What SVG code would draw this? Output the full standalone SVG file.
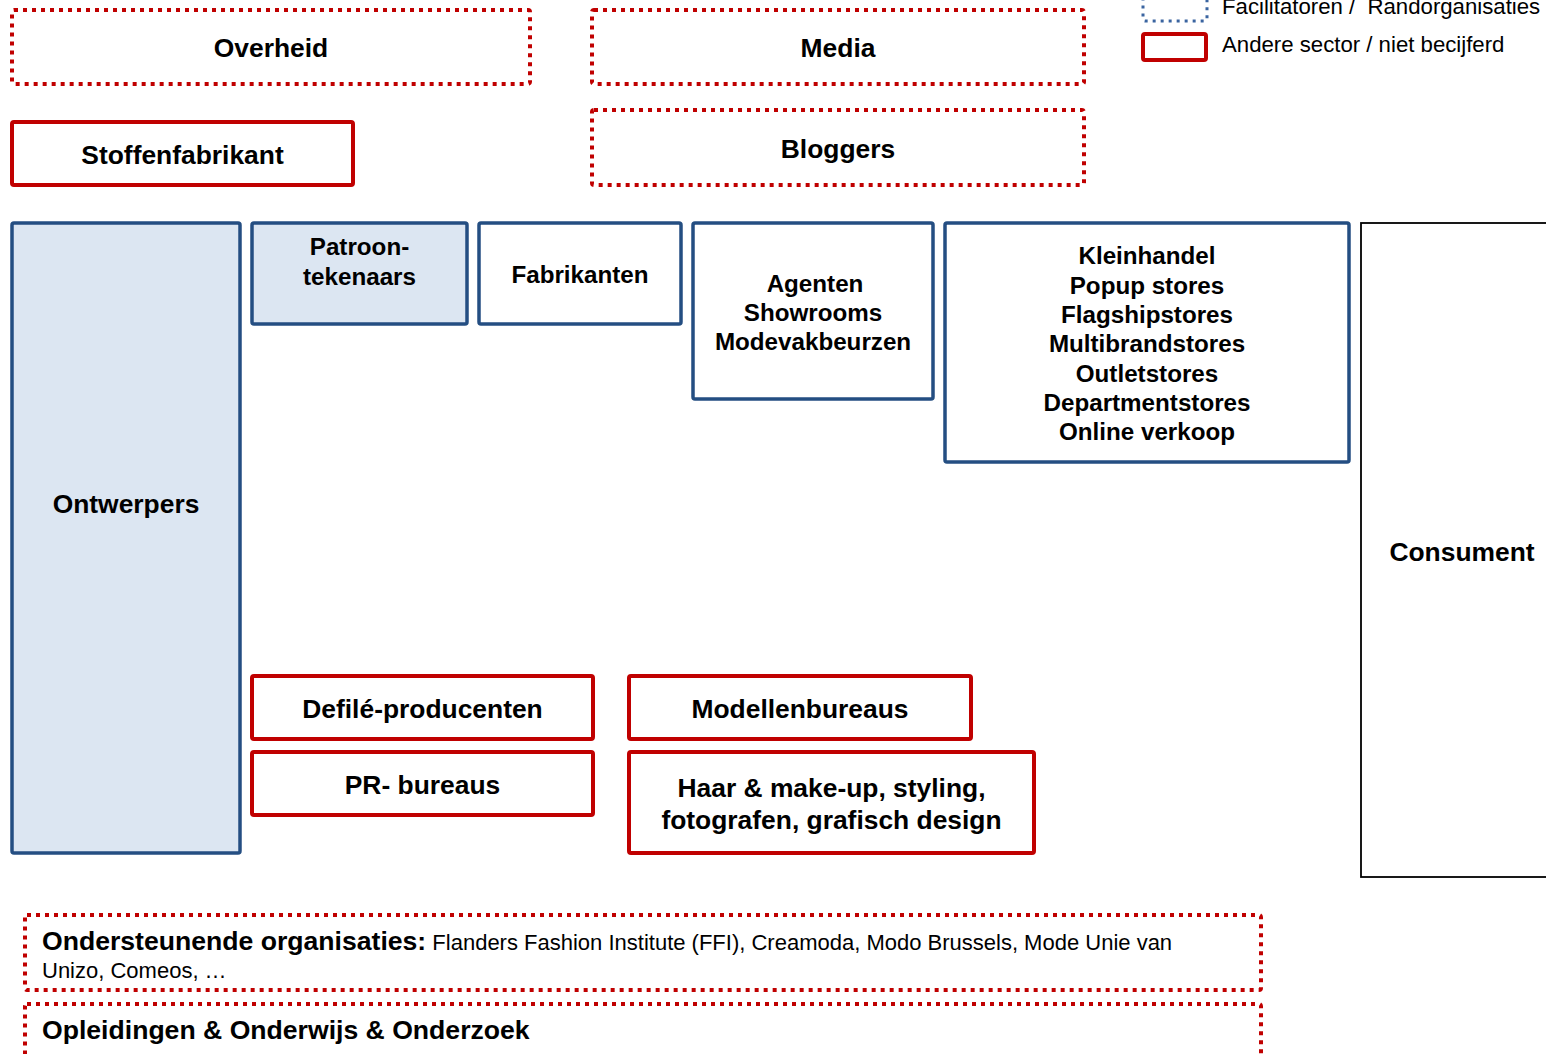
<svg xmlns="http://www.w3.org/2000/svg" width="1546" height="1054" viewBox="0 0 1546 1054">
  <style>
    .lbl { font-family: "Liberation Sans", Arial, sans-serif; font-weight: bold; fill: #000; text-anchor: middle; }
    .s24 { font-size: 24.2px; }
    .s26 { font-size: 26.4px; }
    .reg { font-family: "Liberation Sans", Arial, sans-serif; fill: #000; }
    .core { fill: #fff; stroke: #244e82; stroke-width: 3.5; }
    .core-fill { fill: #dce6f2; stroke: #244e82; stroke-width: 3.5; }
    .other { fill: #fff; stroke: #c00000; stroke-width: 4; }
    .fringe { fill: #fff; stroke: #c00000; stroke-width: 4; stroke-dasharray: 4 5; }
    .consumer { fill: #fff; stroke: #000; stroke-width: 1.8; }
  </style>

  <!-- legend -->
  <g id="legend">
    <rect x="1143" y="-12" width="64" height="33" rx="2" fill="#fff" stroke="#3a64a0" stroke-width="3" stroke-dasharray="3 5"/>
    <text class="reg" x="1222" y="14" font-size="22.2" xml:space="preserve" style="white-space:pre">Facilitatoren /  Randorganisaties</text>
    <rect class="other" x="1143" y="34" width="63" height="26" rx="2"/>
    <text class="reg" x="1222" y="52" font-size="22.2">Andere sector / niet becijferd</text>
  </g>

  <!-- surrounding parties -->
  <g id="overheid">
    <rect class="fringe" x="12" y="10" width="518" height="74" rx="2"/>
    <text class="lbl s26" x="271" y="57">Overheid</text>
  </g>
  <g id="media">
    <rect class="fringe" x="592" y="10" width="492" height="74" rx="2"/>
    <text class="lbl s26" x="838" y="57">Media</text>
  </g>
  <g id="bloggers">
    <rect class="fringe" x="592" y="110" width="492" height="75" rx="2"/>
    <text class="lbl s26" x="838" y="158">Bloggers</text>
  </g>
  <g id="stoffenfabrikant">
    <rect class="other" x="12" y="122" width="341" height="63" rx="2"/>
    <text class="lbl s26" x="182.5" y="164">Stoffenfabrikant</text>
  </g>

  <!-- core chain -->
  <g id="ontwerpers">
    <rect class="core-fill" x="12" y="223" width="228" height="630" rx="2"/>
    <text class="lbl s26" x="126" y="513">Ontwerpers</text>
  </g>
  <g id="patroontekenaars">
    <rect class="core-fill" x="252" y="223" width="215" height="101" rx="2"/>
    <text class="lbl s24" x="359.5" y="255">Patroon-</text>
    <text class="lbl s24" x="359.5" y="285">tekenaars</text>
  </g>
  <g id="fabrikanten">
    <rect class="core" x="479" y="223" width="202" height="101" rx="2"/>
    <text class="lbl s24" x="580" y="283">Fabrikanten</text>
  </g>
  <g id="agenten">
    <rect class="core" x="693" y="223" width="240" height="176" rx="2"/>
    <text class="lbl s24" x="815" y="292">Agenten</text>
    <text class="lbl s24" x="813" y="321">Showrooms</text>
    <text class="lbl s24" x="813" y="350">Modevakbeurzen</text>
  </g>
  <g id="kleinhandel">
    <rect class="core" x="945" y="223" width="404" height="239" rx="2"/>
    <text class="lbl s24" x="1147" y="264">Kleinhandel</text>
    <text class="lbl s24" x="1147" y="293.5">Popup stores</text>
    <text class="lbl s24" x="1147" y="323">Flagshipstores</text>
    <text class="lbl s24" x="1147" y="352">Multibrandstores</text>
    <text class="lbl s24" x="1147" y="381.5">Outletstores</text>
    <text class="lbl s24" x="1147" y="411">Departmentstores</text>
    <text class="lbl s24" x="1147" y="440">Online verkoop</text>
  </g>
  <g id="consument">
    <rect class="consumer" x="1361" y="223" width="200" height="654"/>
    <text class="lbl s26" x="1462" y="561">Consument</text>
  </g>

  <!-- other sectors -->
  <g id="defile">
    <rect class="other" x="252" y="676" width="341" height="63" rx="2"/>
    <text class="lbl s26" x="422.5" y="718">Defilé-producenten</text>
  </g>
  <g id="pr">
    <rect class="other" x="252" y="752" width="341" height="63" rx="2"/>
    <text class="lbl s26" x="422.5" y="794">PR- bureaus</text>
  </g>
  <g id="modellenbureaus">
    <rect class="other" x="629" y="676" width="342" height="63" rx="2"/>
    <text class="lbl s26" x="800" y="718">Modellenbureaus</text>
  </g>
  <g id="creatief">
    <rect class="other" x="629" y="752" width="405" height="101" rx="2"/>
    <text class="lbl s26" x="831.5" y="797">Haar &amp; make-up, styling,</text>
    <text class="lbl s26" x="831.5" y="829">fotografen, grafisch design</text>
  </g>

  <!-- supporting bands -->
  <g id="ondersteunend">
    <rect class="fringe" x="25" y="915" width="1236" height="75" rx="2"/>
    <text class="reg" x="42" y="950" font-size="22"><tspan font-weight="bold" font-size="26.6">Ondersteunende organisaties:</tspan> Flanders Fashion Institute (FFI), Creamoda, Modo Brussels, Mode Unie van</text>
    <text class="reg" x="42" y="978" font-size="22">Unizo, Comeos, …</text>
  </g>
  <g id="opleidingen">
    <rect class="fringe" x="25" y="1004" width="1236" height="70" rx="2"/>
    <text class="reg" x="42" y="1039" font-size="26.6" font-weight="bold">Opleidingen &amp; Onderwijs &amp; Onderzoek</text>
  </g>

  <g id="connectors"/>
</svg>
